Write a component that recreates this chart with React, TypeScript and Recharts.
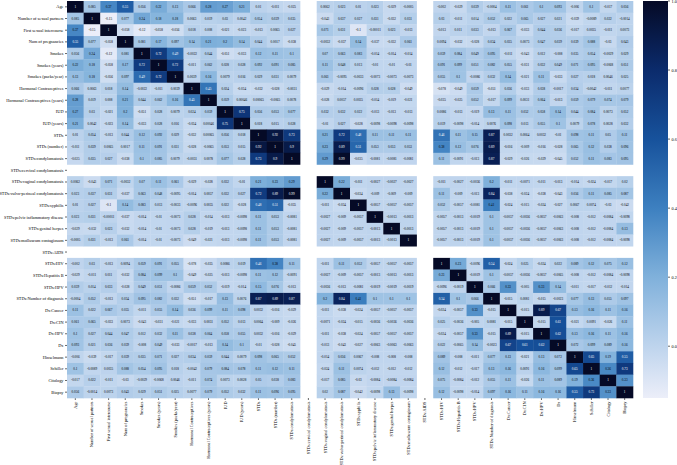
import React from "react"
import { ScatterChart, Scatter, XAxis, YAxis } from "recharts"

const labels = [
  "Age",
  "Number of sexual partners",
  "First sexual intercourse",
  "Num of pregnancies",
  "Smokes",
  "Smokes (years)",
  "Smokes (packs/year)",
  "Hormonal Contraceptives",
  "Hormonal Contraceptives (years)",
  "IUD",
  "IUD (years)",
  "STDs",
  "STDs (number)",
  "STDs:condylomatosis",
  "STDs:cervical condylomatosis",
  "STDs:vaginal condylomatosis",
  "STDs:vulvo-perineal condylomatosis",
  "STDs:syphilis",
  "STDs:pelvic inflammatory disease",
  "STDs:genital herpes",
  "STDs:molluscum contagiosum",
  "STDs:AIDS",
  "STDs:HIV",
  "STDs:Hepatitis B",
  "STDs:HPV",
  "STDs:Number of diagnosis",
  "Dx:Cancer",
  "Dx:CIN",
  "Dx:HPV",
  "Dx",
  "Hinselmann",
  "Schiller",
  "Citology",
  "Biopsy",
]

const N = null

// one row of the correlation matrix per variable (null = NaN, left blank)
const rowAge = [1, 0.085, 0.37, 0.55, 0.056, 0.22, 0.13, 0.066, 0.28, 0.27, 0.21, 0.01, -0.011, -0.025, N, 0.0062, 0.023, 0.01, 0.023, -0.029, -0.0005, N, -0.002, -0.029, 0.039, -0.0004, 0.11, 0.061, 0.1, 0.093, -0.006, 0.1, -0.017, 0.056]
const rowPartners = [0.085, 1, -0.15, 0.077, 0.24, 0.18, 0.18, 0.0063, 0.019, 0.03, 0.0042, 0.054, 0.039, 0.035, N, -0.043, 0.037, 0.027, 0.031, -0.032, 0.031, N, 0.03, -0.011, 0.014, 0.052, 0.022, 0.065, 0.027, 0.021, -0.039, -0.0089, 0.022, -0.0014]
const rowFirstSex = [0.37, -0.15, 1, -0.058, -0.12, -0.058, -0.056, 0.018, 0.008, -0.021, -0.023, -0.013, 0.0065, 0.027, N, 0.071, 0.031, -0.1, -0.00011, 0.023, -0.013, N, -0.013, 0.011, 0.033, -0.013, 0.067, -0.033, 0.044, 0.036, -0.017, 0.0035, -0.011, 0.0073]
const rowPregnancies = [0.55, 0.077, -0.058, 1, 0.081, 0.17, 0.097, 0.14, 0.21, 0.2, 0.14, 0.044, 0.0017, -0.038, N, -0.0032, -0.037, 0.14, -0.037, -0.032, 0.061, N, 0.0094, -0.032, -0.028, 0.034, 0.035, 0.0073, 0.047, 0.039, 0.039, 0.088, -0.03, 0.043]
const rowSmokes = [0.056, 0.24, -0.12, 0.081, 1, 0.72, 0.49, -0.0022, 0.044, -0.051, -0.033, 0.12, 0.11, 0.1, N, 0.07, 0.063, 0.083, -0.014, -0.014, -0.014, N, 0.059, 0.084, 0.049, 0.095, -0.011, -0.043, 0.012, -0.008, 0.035, 0.054, -0.0029, 0.029]
const rowSmokesYears = [0.22, 0.18, -0.058, 0.17, 0.72, 1, 0.72, -0.011, 0.062, 0.028, 0.028, 0.092, 0.091, 0.085, N, 0.11, 0.048, 0.013, -0.01, -0.01, -0.01, N, 0.091, 0.099, 0.051, 0.082, 0.055, -0.031, 0.032, 0.049, 0.071, 0.095, -0.0068, 0.051]
const rowSmokesPacks = [0.13, 0.18, -0.056, 0.097, 0.49, 0.72, 1, 0.0039, 0.16, 0.0079, 0.016, 0.029, 0.031, 0.0079, N, 0.061, -0.0095, -0.0033, -0.0073, -0.0073, -0.0073, N, 0.055, 0.1, -0.0086, 0.032, 0.14, -0.021, 0.11, -0.033, 0.027, 0.018, 0.0046, 0.025]
const rowHormonal = [0.066, 0.0063, 0.018, 0.14, -0.0022, -0.011, 0.0039, 1, 0.45, 0.024, -0.034, -0.032, -0.028, -0.0031, N, -0.029, -0.014, -0.0096, 0.028, 0.028, -0.049, N, -0.078, -0.049, 0.059, -0.051, 0.036, -0.033, 0.038, -0.0017, 0.034, -0.0042, -0.011, 0.0077]
const rowHormonalYears = [0.28, 0.019, 0.008, 0.21, 0.044, 0.062, 0.16, 0.45, 1, 0.059, 0.00046, 0.00065, -0.0065, 0.0078, N, -0.028, 0.0057, 0.0035, -0.014, -0.019, -0.021, N, -0.035, -0.025, 0.052, -0.017, 0.099, 0.0031, 0.064, -0.013, 0.059, 0.079, 0.074, 0.079]
const rowIud = [0.27, 0.03, -0.021, 0.2, -0.051, 0.028, 0.0079, 0.024, 0.059, 1, 0.75, 0.056, 0.053, 0.077, N, 0.032, 0.032, 0.022, -0.013, -0.013, -0.013, N, 0.0086, -0.013, -0.019, 0.13, 0.11, 0.052, 0.058, 0.14, 0.044, 0.084, 0.0073, 0.052]
const rowIudYears = [0.21, 0.0042, -0.023, 0.14, -0.033, 0.028, 0.016, -0.034, 0.00046, 0.75, 1, 0.018, 0.015, 0.028, N, -0.01, 0.027, -0.028, -0.0098, -0.0098, -0.0098, N, 0.019, -0.0098, -0.014, 0.0076, 0.098, 0.013, 0.055, 0.1, 0.0079, 0.078, 0.0028, 0.032]
const rowStds = [0.01, 0.054, -0.013, 0.044, 0.12, 0.092, 0.029, -0.032, 0.00065, 0.056, 0.018, 1, 0.92, 0.73, N, 0.21, 0.72, 0.48, 0.11, 0.11, 0.11, N, 0.46, 0.11, 0.15, 0.87, 0.0032, 0.0064, 0.0032, -0.01, 0.098, 0.11, 0.05, 0.11]
const rowStdsNumber = [-0.011, 0.039, 0.0065, 0.0017, 0.11, 0.091, 0.031, -0.028, -0.0065, 0.053, 0.015, 0.92, 1, 0.9, N, 0.23, 0.89, 0.51, 0.053, 0.053, 0.053, N, 0.38, 0.12, 0.076, 0.89, -0.016, -0.009, -0.016, -0.028, 0.065, 0.12, 0.038, 0.096]
const rowCondy = [-0.025, 0.035, 0.027, -0.038, 0.1, 0.085, 0.0079, -0.0031, 0.0078, 0.077, 0.028, 0.73, 0.9, 1, N, 0.29, 0.99, -0.035, -0.0081, -0.0081, -0.0081, N, 0.11, -0.0091, -0.013, 0.87, -0.029, -0.026, -0.029, -0.045, 0.052, 0.11, 0.083, 0.095]
const rowCervical = [N, N, N, N, N, N, N, N, N, N, N, N, N, N, N, N, N, N, N, N, N, N, N, N, N, N, N, N, N, N, N, N, N, N]
const rowVaginal = [0.0062, -0.043, 0.071, -0.0032, 0.07, 0.11, 0.061, -0.029, -0.028, 0.032, -0.01, 0.21, 0.23, 0.29, N, 1, 0.22, -0.011, -0.0027, -0.0027, -0.0027, N, -0.011, -0.0027, -0.0036, 0.2, -0.011, -0.0071, -0.011, -0.013, -0.014, -0.024, -0.017, 0.02]
const rowVulvo = [0.023, 0.037, 0.031, -0.037, 0.063, 0.048, -0.0095, -0.014, 0.0057, 0.032, 0.027, 0.72, 0.89, 0.99, N, 0.22, 1, -0.034, -0.009, -0.009, -0.009, N, 0.11, -0.009, -0.013, 0.84, -0.038, -0.024, -0.038, -0.043, 0.056, 0.11, 0.085, 0.087]
const rowSyphilis = [0.01, 0.027, -0.1, 0.14, 0.083, 0.013, -0.0033, -0.0096, 0.0035, 0.022, -0.028, 0.48, 0.51, -0.035, N, -0.011, -0.034, 1, -0.0057, -0.0057, -0.0057, N, 0.052, -0.0057, -0.0081, 0.41, -0.024, -0.015, -0.024, -0.027, 0.0067, 0.0074, -0.03, -0.042]
const rowPelvic = [0.023, 0.031, -0.00011, -0.037, -0.014, -0.01, -0.0073, 0.028, -0.014, -0.013, -0.0098, 0.11, 0.053, -0.0081, N, -0.0027, -0.009, -0.0057, 1, -0.0013, -0.0013, N, -0.0057, -0.0013, -0.0019, 0.1, -0.0057, -0.0036, -0.0057, -0.0063, -0.008, -0.012, -0.0084, -0.0098]
const rowHerpes = [-0.029, -0.032, 0.023, -0.032, -0.014, -0.01, -0.0073, 0.028, -0.019, -0.013, -0.0098, 0.11, 0.053, -0.0081, N, -0.0027, -0.009, -0.0057, -0.0013, 1, -0.0013, N, -0.0057, -0.0013, -0.0019, 0.1, -0.0057, -0.0036, -0.0057, -0.0063, -0.008, -0.012, -0.0084, 0.13]
const rowMolluscum = [-0.0005, 0.031, -0.013, 0.061, -0.014, -0.01, -0.0073, -0.049, -0.021, -0.013, -0.0098, 0.11, 0.053, -0.0081, N, -0.0027, -0.009, -0.0057, -0.0013, -0.0013, 1, N, -0.0057, -0.0013, -0.0019, 0.1, -0.0057, -0.0036, -0.0057, -0.0063, -0.008, -0.012, -0.0084, -0.0098]
const rowAids = [N, N, N, N, N, N, N, N, N, N, N, N, N, N, N, N, N, N, N, N, N, N, N, N, N, N, N, N, N, N, N, N, N, N]
const rowHiv = [-0.002, 0.03, -0.013, 0.0094, 0.059, 0.091, 0.055, -0.078, -0.035, 0.0086, 0.019, 0.46, 0.38, 0.11, N, -0.011, 0.11, 0.052, -0.0057, -0.0057, -0.0057, N, 1, 0.23, -0.0096, 0.54, -0.024, 0.025, -0.024, 0.022, 0.089, 0.12, 0.075, 0.12]
const rowHepB = [-0.029, -0.011, 0.011, -0.032, 0.084, 0.099, 0.1, -0.049, -0.025, -0.013, -0.0098, 0.11, 0.12, -0.0091, N, -0.0027, -0.009, -0.0057, -0.0013, -0.0013, -0.0013, N, 0.23, 1, -0.0019, 0.1, -0.0057, -0.0036, -0.0057, -0.0065, -0.008, -0.012, -0.0084, -0.0098]
const rowStdHpv = [0.039, 0.014, 0.033, -0.028, 0.049, 0.051, -0.0086, 0.059, 0.052, -0.019, -0.014, 0.15, 0.076, -0.013, N, -0.0036, -0.013, -0.0081, -0.0019, -0.0019, -0.0019, N, -0.0096, -0.0019, 1, 0.066, 0.33, -0.005, 0.33, 0.14, -0.011, -0.017, -0.012, -0.014]
const rowNumDiag = [-0.0004, 0.052, -0.013, 0.034, 0.095, 0.082, 0.032, -0.051, -0.017, 0.13, 0.0076, 0.87, 0.89, 0.87, N, 0.2, 0.84, 0.41, 0.1, 0.1, 0.1, N, 0.54, 0.1, 0.066, 1, -0.015, 0.0081, -0.015, -0.0023, 0.077, 0.13, 0.055, 0.097]
const rowDxCancer = [0.11, 0.022, 0.067, 0.035, -0.011, 0.055, 0.14, 0.036, 0.099, 0.11, 0.098, 0.0032, -0.016, -0.029, N, -0.011, -0.038, -0.024, -0.0057, -0.0057, -0.0057, N, -0.024, -0.0057, 0.33, -0.015, 1, -0.015, 0.89, 0.67, 0.13, 0.16, 0.11, 0.16]
const rowDxCin = [0.061, 0.065, -0.033, 0.0073, -0.043, -0.031, -0.021, -0.033, 0.0031, 0.052, 0.013, 0.0064, -0.009, -0.026, N, -0.0071, -0.024, -0.015, -0.0036, -0.0036, -0.0036, N, 0.025, -0.0036, -0.005, 0.0081, -0.015, 1, -0.015, 0.61, -0.021, 0.0091, -0.026, 0.11]
const rowDxHpv = [0.1, 0.027, 0.044, 0.047, 0.012, 0.032, 0.11, 0.038, 0.064, 0.058, 0.055, 0.0032, -0.016, -0.029, N, -0.011, -0.038, -0.024, -0.0057, -0.0057, -0.0057, N, -0.024, -0.0057, 0.33, -0.015, 0.89, -0.015, 1, 0.62, 0.13, 0.16, 0.11, 0.16]
const rowDx = [0.093, 0.021, 0.036, 0.039, -0.008, 0.049, -0.033, -0.0017, -0.013, 0.14, 0.1, -0.01, -0.028, -0.045, N, -0.013, -0.043, -0.027, -0.0063, -0.0063, -0.0063, N, 0.022, -0.0065, 0.14, -0.0023, 0.67, 0.61, 0.62, 1, 0.072, 0.099, 0.089, 0.16]
const rowHinselmann = [-0.006, -0.039, -0.017, 0.039, 0.035, 0.071, 0.027, 0.034, 0.059, 0.044, 0.0079, 0.098, 0.065, 0.052, N, -0.014, 0.056, 0.0067, -0.008, -0.008, -0.008, N, 0.089, -0.008, -0.011, 0.077, 0.13, -0.021, 0.13, 0.072, 1, 0.65, 0.19, 0.55]
const rowSchiller = [0.1, -0.0089, 0.0035, 0.088, 0.054, 0.095, 0.018, -0.0042, 0.079, 0.084, 0.078, 0.11, 0.12, 0.11, N, -0.024, 0.11, 0.0074, -0.012, -0.012, -0.012, N, 0.12, -0.012, -0.017, 0.13, 0.16, 0.0091, 0.16, 0.099, 0.65, 1, 0.36, 0.73]
const rowCitology = [-0.017, 0.022, -0.011, -0.03, -0.0029, -0.0068, 0.0046, -0.011, 0.074, 0.0073, 0.0028, 0.05, 0.038, 0.083, N, -0.017, 0.085, -0.03, -0.0084, -0.0084, -0.0084, N, 0.075, -0.0084, -0.012, 0.055, 0.11, -0.026, 0.11, 0.089, 0.19, 0.36, 1, 0.33]
const rowBiopsy = [0.056, -0.0014, 0.0073, 0.043, 0.029, 0.051, 0.025, 0.0077, 0.079, 0.052, 0.032, 0.11, 0.096, 0.095, N, 0.02, 0.087, -0.042, -0.0098, 0.13, -0.0098, N, 0.12, -0.0098, -0.014, 0.097, 0.16, 0.11, 0.16, 0.16, 0.55, 0.73, 0.33, 1]

const corrRows: (number | null)[][] = [
  rowAge, rowPartners, rowFirstSex, rowPregnancies, rowSmokes, rowSmokesYears,
  rowSmokesPacks, rowHormonal, rowHormonalYears, rowIud, rowIudYears, rowStds,
  rowStdsNumber, rowCondy, rowCervical, rowVaginal, rowVulvo, rowSyphilis,
  rowPelvic, rowHerpes, rowMolluscum, rowAids, rowHiv, rowHepB, rowStdHpv,
  rowNumDiag, rowDxCancer, rowDxCin, rowDxHpv, rowDx, rowHinselmann,
  rowSchiller, rowCitology, rowBiopsy,
]

const colorbarTicks = [1.0, 0.8, 0.6, 0.4, 0.2, 0.0]

const V_MIN = -0.15
const V_MAX = 1.0
const colorStops: [number, string][] = [
  [-0.15, "#eceef9"],
  [0.0, "#bed4ed"],
  [0.2, "#80b1db"],
  [0.4, "#3d80c0"],
  [0.6, "#17529c"],
  [0.8, "#0b2b6c"],
  [1.0, "#050a26"],
]

const W = 677
const H = 465
const PLOT_LEFT = 67
const PLOT_RIGHT = 633
const PLOT_TOP = 1
const PLOT_BOTTOM = 398
const n = labels.length
const CELL_W = (PLOT_RIGHT - PLOT_LEFT) / n
const CELL_H = (PLOT_BOTTOM - PLOT_TOP) / n
const FONT = "'Liberation Serif', 'DejaVu Serif', serif"

const hexToRgb = (h: string) => [
  parseInt(h.slice(1, 3), 16),
  parseInt(h.slice(3, 5), 16),
  parseInt(h.slice(5, 7), 16),
]

const colorFor = (v: number) => {
  const t = Math.max(V_MIN, Math.min(V_MAX, v))
  for (let i = 1; i < colorStops.length; i++) {
    const [v1, c1] = colorStops[i]
    const [v0, c0] = colorStops[i - 1]
    if (t <= v1) {
      const f = (t - v0) / (v1 - v0)
      const a = hexToRgb(c0)
      const b = hexToRgb(c1)
      const m = a.map((x, k) => Math.round(x + (b[k] - x) * f))
      return `rgb(${m[0]},${m[1]},${m[2]})`
    }
  }
  return colorStops[colorStops.length - 1][1]
}

const fmt = (v: number) => String(Number(v.toPrecision(2)))

const cells = corrRows.flatMap((row, r) =>
  row
    .map((v, c) => ({ x: c + 0.5, y: r + 0.5, v }))
    .filter((d) => d.v !== null),
)

const ticks = labels.map((_, i) => i + 0.5)

const HeatCell = (props: any) => {
  const { cx, cy, payload } = props
  const v = payload.v as number
  return (
    <g>
      <rect
        x={cx - CELL_W / 2}
        y={cy - CELL_H / 2}
        width={CELL_W + 0.3}
        height={CELL_H + 0.3}
        fill={colorFor(v)}
      />
      <text
        x={cx}
        y={cy}
        textAnchor="middle"
        dominantBaseline="central"
        fontSize={3.3}
        fontFamily={FONT}
        fill={v > 0.42 ? "#ffffff" : "#000000"}
      >
        {fmt(v)}
      </text>
    </g>
  )
}

const XTick = (props: any) => {
  const { x, y, payload } = props
  return (
    <text
      transform={`translate(${x},${y}) rotate(-90)`}
      textAnchor="end"
      dominantBaseline="central"
      fontSize={4.3}
      fontFamily={FONT}
      fill="#000"
    >
      {labels[Math.floor(payload.value)]}
    </text>
  )
}

const YTick = (props: any) => {
  const { x, y, payload } = props
  return (
    <text
      x={x}
      y={y}
      textAnchor="end"
      dominantBaseline="central"
      fontSize={4.3}
      fontFamily={FONT}
      fill="#000"
    >
      {labels[Math.floor(payload.value)]}
    </text>
  )
}

const Colorbar = () => {
  const x0 = 643
  const barW = 25
  const yFor = (v: number) =>
    PLOT_TOP + ((V_MAX - v) / (V_MAX - V_MIN)) * (PLOT_BOTTOM - PLOT_TOP)
  return (
    <svg
      width={W}
      height={H}
      style={{ position: "absolute", left: 0, top: 0, pointerEvents: "none" }}
    >
      <defs>
        <linearGradient id="cbar" x1="0" y1="0" x2="0" y2="1">
          {[...colorStops].reverse().map(([v, c]) => (
            <stop
              key={v}
              offset={`${((V_MAX - v) / (V_MAX - V_MIN)) * 100}%`}
              stopColor={c}
            />
          ))}
        </linearGradient>
      </defs>
      <rect
        x={x0}
        y={PLOT_TOP}
        width={barW}
        height={PLOT_BOTTOM - PLOT_TOP}
        fill="url(#cbar)"
      />
      {colorbarTicks.map((t) => (
        <g key={t}>
          <line
            x1={x0 + barW}
            x2={x0 + barW + 2}
            y1={yFor(t)}
            y2={yFor(t)}
            stroke="#000"
            strokeWidth={0.6}
          />
          <text
            x={x0 + barW + 3.5}
            y={yFor(t)}
            dominantBaseline="central"
            fontSize={4.3}
            fontFamily={FONT}
            fill="#000"
          >
            {t.toFixed(1)}
          </text>
        </g>
      ))}
    </svg>
  )
}

export default function App() {
  return (
    <div
      style={{
        position: "absolute",
        left: 0,
        top: 0,
        width: W,
        height: H,
        background: "#fff",
      }}
    >
      <ScatterChart
        width={W}
        height={H}
        margin={{ top: PLOT_TOP, right: W - PLOT_RIGHT, bottom: 0, left: 0 }}
      >
        <XAxis
          type="number"
          dataKey="x"
          domain={[0, n]}
          ticks={ticks}
          interval={0}
          height={H - PLOT_BOTTOM}
          axisLine={false}
          tickSize={2}
          tickMargin={1.5}
          tickLine={{ stroke: "#000", strokeWidth: 0.6 }}
          tick={<XTick />}
        />
        <YAxis
          type="number"
          dataKey="y"
          domain={[0, n]}
          reversed
          ticks={ticks}
          interval={0}
          width={PLOT_LEFT}
          axisLine={false}
          tickSize={2}
          tickMargin={1.5}
          tickLine={{ stroke: "#000", strokeWidth: 0.6 }}
          tick={<YTick />}
        />
        <Scatter data={cells} shape={<HeatCell />} isAnimationActive={false} />
      </ScatterChart>
      <Colorbar />
    </div>
  )
}
